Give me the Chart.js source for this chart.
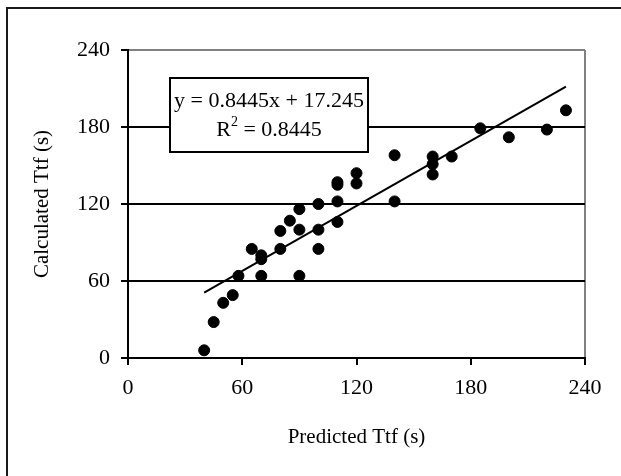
<!DOCTYPE html>
<html>
<head>
<meta charset="utf-8">
<title>Predicted vs Calculated Ttf</title>
<script src="https://cdn.jsdelivr.net/npm/chart.js@4.4.0/dist/chart.umd.min.js"></script>
<style>
  body { margin: 0; background: #fff; }
  canvas { display: block; }
</style>
</head>
<body>
<canvas id="ttfChart" width="621" height="476"></canvas>
<script>
// values
const predictedTtf = [40, 45, 50, 55, 58, 65, 70, 70, 70, 80, 80, 85, 90, 90, 90, 100, 100, 100,
  110, 110, 110, 110, 120, 120, 140, 140, 160, 160, 160, 170, 185, 200, 220, 230]
const calculatedTtf = [6, 28, 43, 49, 64, 85, 80, 77, 64, 99, 85, 107, 116, 100, 64, 120, 100, 85,
  137, 135, 122, 106, 144, 136, 158, 122, 157, 151, 143, 157, 179, 172, 178, 193]

// trend line ends (as drawn in the picture)
const trendX = [40, 230]
const trendY = [51, 211.5]

const axisTicks = [0, 60, 120, 180, 240]
const xTitle = 'Predicted Ttf (s)'
const yTitle = 'Calculated Ttf (s)'
const eqLine1 = 'y = 0.8445x + 17.245'
const eqR2 = '0.8445'

const FONT = "'Liberation Serif', 'Times New Roman', serif"
const GRAY = '#808080'

//outer frame + equation box
const framePlugin = {
  id: 'frame',
  beforeDraw(chart) {
    const ctx = chart.ctx
    ctx.save()
    ctx.strokeStyle = '#1a1a1a'
    ctx.lineWidth = 2
    ctx.beginPath()
    ctx.moveTo(7, 476)
    ctx.lineTo(7, 8)
    ctx.lineTo(621, 8)
    ctx.stroke()
    ctx.restore()
  },
  afterDatasetsDraw(chart) {
    const ctx = chart.ctx
    const bx = 170, by = 78, bw = 198, bh = 74
    ctx.save()
    ctx.fillStyle = '#fff'
    ctx.fillRect(bx, by, bw, bh)
    ctx.strokeStyle = '#000'
    ctx.lineWidth = 2
    ctx.strokeRect(bx, by, bw, bh)

    ctx.fillStyle = '#000'
    ctx.textBaseline = 'middle'
    ctx.textAlign = 'center'
    ctx.font = '22px ' + FONT
    ctx.fillText(eqLine1, bx + bw / 2, 101)

    // R^2 line, superscript done by hand
    const rest = ' = ' + eqR2
    const wR = ctx.measureText('R').width
    const wRest = ctx.measureText(rest).width
    ctx.font = '14px ' + FONT
    const w2 = ctx.measureText('2').width
    const total = wR + w2 + wRest
    let x = bx + bw / 2 - total / 2
    ctx.textAlign = 'left'
    ctx.font = '22px ' + FONT
    ctx.fillText('R', x, 130)
    x += wR
    ctx.font = '14px ' + FONT
    ctx.fillText('2', x, 122)
    x += w2
    ctx.font = '22px ' + FONT
    ctx.fillText(rest, x, 130)
    ctx.restore()
  }
}

const points = predictedTtf.map((v, i) => ({ x: v, y: calculatedTtf[i] }))
const trend = trendX.map((v, i) => ({ x: v, y: trendY[i] }))

const tickOpts = {
  color: '#000',
  font: { family: FONT, size: 22 },
  autoSkip: false
}

new Chart(document.getElementById('ttfChart'), {
  type: 'scatter',
  data: {
    datasets: [
      {
        data: points,
        backgroundColor: '#000',
        borderColor: '#000',
        pointRadius: 5.5,
        pointHoverRadius: 5.5
      },
      {
        type: 'line',
        data: trend,
        borderColor: '#000',
        borderWidth: 2,
        pointRadius: 0,
        fill: false
      }
    ]
  },
  options: {
    responsive: false,
    devicePixelRatio: 1,
    animation: false,
    events: [],
    layout: { padding: { top: 50, right: 36, bottom: 0, left: 0 } },
    plugins: { legend: { display: false }, tooltip: { enabled: false } },
    scales: {
      x: {
        type: 'linear',
        min: 0,
        max: 240,
        afterBuildTicks: (s) => { s.ticks = axisTicks.map(v => ({ value: v })) },
        afterFit: (s) => { s.height = 118 },
        ticks: { ...tickOpts, padding: 10 },
        grid: {
          color: (c) => (c.tick && c.tick.value === 240 ? GRAY : 'rgba(0,0,0,0)'),
          lineWidth: 2,
          tickColor: '#000',
          tickWidth: 2,
          tickLength: 7
        },
        border: { color: '#000', width: 2 },
        title: {
          display: true,
          text: xTitle,
          color: '#000',
          font: { family: FONT, size: 21 },
          padding: { top: 0, bottom: 26 }
        }
      },
      y: {
        type: 'linear',
        min: 0,
        max: 240,
        afterBuildTicks: (s) => { s.ticks = axisTicks.map(v => ({ value: v })) },
        afterFit: (s) => { s.width = 128 },
        ticks: { ...tickOpts, padding: 11 },
        grid: {
          color: (c) => (c.tick && c.tick.value === 240 ? GRAY : '#000'),
          lineWidth: 2,
          tickColor: '#000',
          tickWidth: 2,
          tickLength: 7
        },
        border: { color: '#000', width: 2 },
        title: {
          display: true,
          text: yTitle,
          color: '#000',
          font: { family: FONT, size: 21 },
          padding: { top: 30, bottom: 0 }
        }
      }
    }
  },
  plugins: [framePlugin]
})
</script>
</body>
</html>
